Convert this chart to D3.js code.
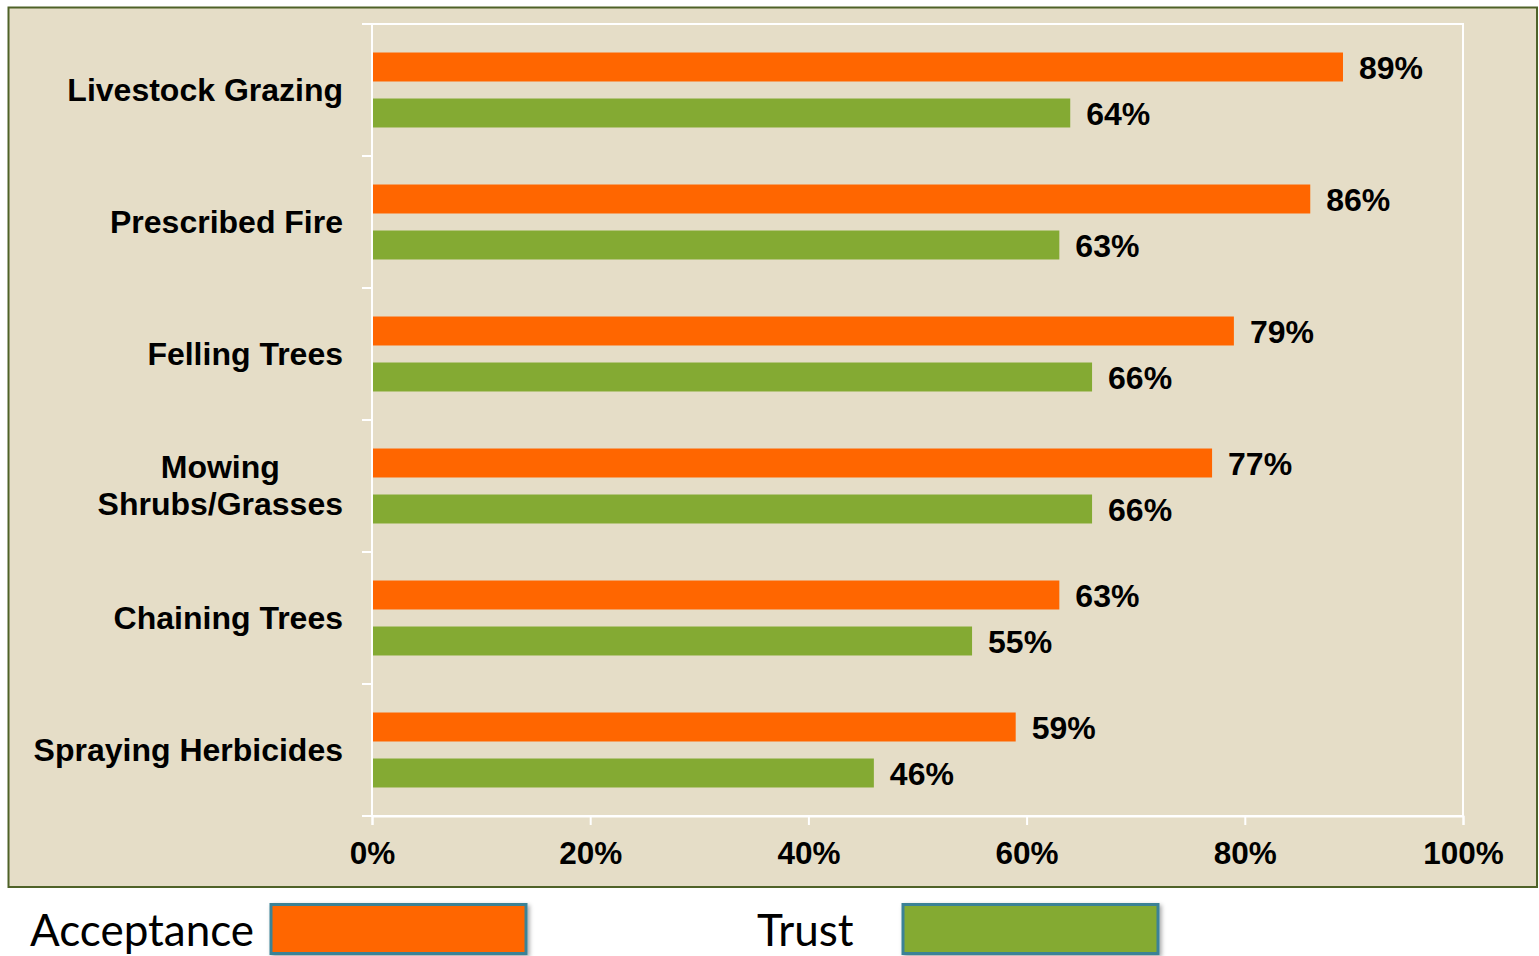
<!DOCTYPE html>
<html>
<head>
<meta charset="utf-8">
<script src="https://cdn.jsdelivr.net/npm/d3@7"></script>
<style>
  html, body { margin: 0; padding: 0; background: #ffffff; }
  svg { display: block; }
</style>
</head>
<body>
<svg id="chart" width="1539" height="956"></svg>
<script>
// ---- data ----
const categories = ["Livestock Grazing", "Prescribed Fire", "Felling Trees", "Mowing\nShrubs/Grasses", "Chaining Trees", "Spraying Herbicides"];
const seriesNames = ["Acceptance", "Trust"];
const acceptance = [89, 86, 79, 77, 63, 59];
const trust = [64, 63, 66, 66, 55, 46];
const xTicks = [0, 20, 40, 60, 80, 100];

const colors = { Acceptance: "#ff6600", Trust: "#84aa33" };
const bg = "#e5ddc7";

const svg = d3.select("#chart");

// outer frame
svg.append("rect")
  .attr("x", 8.5).attr("y", 7.5)
  .attr("width", 1528.5).attr("height", 879.5)
  .attr("fill", bg)
  .attr("stroke", "#4f6228").attr("stroke-width", 2);

const x = d3.scaleLinear().domain([0, 100]).range([372, 1463]);
const y = d3.scaleBand().domain(categories).range([24, 816]);
const sub = d3.scaleBand().domain(seriesNames).range([0, y.bandwidth()])
  .paddingInner(0.37).paddingOuter(0.62);

// plot area border (white)
svg.append("rect")
  .attr("x", x(0)).attr("y", y.range()[0])
  .attr("width", x(100) - x(0)).attr("height", y.range()[1] - y.range()[0])
  .attr("fill", "none").attr("stroke", "#ffffff").attr("stroke-width", 2);

// y-axis tick marks at band boundaries
const yBounds = categories.map(c => y(c)).concat([y.range()[1]]);
svg.append("g").selectAll("line").data(yBounds).join("line")
  .attr("x1", x(0) - 10).attr("x2", x(0))
  .attr("y1", d => d).attr("y2", d => d)
  .attr("stroke", "#ffffff").attr("stroke-width", 2);

// x axis
const xAxis = d3.axisBottom(x).tickValues(xTicks).tickFormat(d => d + "%").tickSize(9).tickPadding(17);
const gx = svg.append("g").attr("transform", `translate(0,${y.range()[1]})`).call(xAxis);
gx.select(".domain").attr("stroke", "#ffffff").attr("stroke-width", 2);
gx.selectAll(".tick line").attr("stroke", "#ffffff").attr("stroke-width", 2);
gx.selectAll(".tick text")
  .attr("fill", "#000").attr("font-family", "'Liberation Sans', Arial, sans-serif")
  .attr("font-weight", "bold").attr("font-size", 31.5);

// bars
const rows = categories.map((c, i) => ({ cat: c, Acceptance: acceptance[i], Trust: trust[i] }));
const barData = [];
rows.forEach(r => seriesNames.forEach(s => barData.push({ cat: r.cat, series: s, value: r[s] })));

svg.append("g").selectAll("rect").data(barData).join("rect")
  .attr("x", x(0) + 1)
  .attr("y", d => y(d.cat) + sub(d.series))
  .attr("width", d => x(d.value) - x(0) - 1)
  .attr("height", sub.bandwidth())
  .attr("fill", d => colors[d.series]);

// value labels
svg.append("g").selectAll("text").data(barData).join("text")
  .attr("x", d => x(d.value) + 16)
  .attr("y", d => y(d.cat) + sub(d.series) + sub.bandwidth() / 2)
  .attr("dy", "0.38em")
  .attr("font-family", "'Liberation Sans', Arial, sans-serif")
  .attr("font-weight", "bold").attr("font-size", 32)
  .attr("fill", "#000")
  .text(d => d.value + "%");

// category labels
const labelRight = 343;
const lineH = 37;
const gl = svg.append("g")
  .attr("font-family", "'Liberation Sans', Arial, sans-serif")
  .attr("font-weight", "bold").attr("font-size", 32).attr("fill", "#000");
categories.forEach(c => {
  const lines = c.split("\n");
  const cy = y(c) + y.bandwidth() / 2;
  const t = gl.append("text");
  lines.forEach((ln, i) => {
    t.append("tspan").attr("y", cy + (i - (lines.length - 1) / 2) * lineH).attr("dy", "0.34em").text(ln);
  });
  if (lines.length === 1) {
    t.attr("text-anchor", "end").selectAll("tspan").attr("x", labelRight);
  } else {
    const widths = [];
    t.selectAll("tspan").each(function () { widths.push(this.getComputedTextLength()); });
    const maxW = d3.max(widths);
    t.attr("text-anchor", "middle").selectAll("tspan").attr("x", labelRight - maxW / 2);
  }
});

// legend
const defs = svg.append("defs");
const f = defs.append("filter").attr("id", "shadow").attr("x", "-10%").attr("y", "-20%").attr("width", "130%").attr("height", "160%");
f.append("feDropShadow").attr("dx", 2).attr("dy", 2).attr("stdDeviation", 2).attr("flood-color", "#000").attr("flood-opacity", 0.35);

const legendItems = [
  { name: "Acceptance", tx: 30, bx: 271 },
  { name: "Trust", tx: 757, bx: 903 }
];
const lg = svg.append("g");
legendItems.forEach(it => {
  lg.append("text")
    .attr("x", it.tx).attr("y", 946)
    .attr("font-family", "Lato, 'Open Sans', sans-serif")
    .attr("font-size", 44).attr("fill", "#000")
    .text(it.name);
  lg.append("rect")
    .attr("x", it.bx).attr("y", 904.5)
    .attr("width", 255).attr("height", 49)
    .attr("fill", colors[it.name])
    .attr("stroke", "#3a8296").attr("stroke-width", 3)
    .attr("filter", "url(#shadow)");
});
</script>
</body>
</html>
